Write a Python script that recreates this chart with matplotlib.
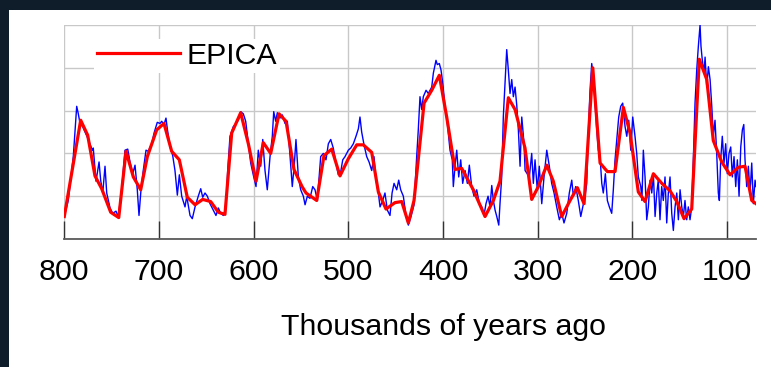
import matplotlib
matplotlib.use("Agg")
import matplotlib.pyplot as plt
from matplotlib.patches import Rectangle

# EPICA Dome C temperature anomaly (deg C) vs. age (thousands of years ago)
# smoothed curve
epica_age = [
    800.0, 782.7, 775.3, 767.6, 760.5, 751.0, 742.5, 734.8, 727.1, 719.3,
    712.3, 702.4, 694.7, 686.6, 678.5, 670.1, 661.9, 653.8, 645.4, 637.3,
    630.3, 623.2, 613.7, 605.6, 597.5, 589.8, 582.0, 573.2, 565.8, 557.4,
    548.9, 544.7, 533.4, 525.7, 517.5, 508.8, 500.0, 491.1, 484.2, 475.3,
    468.3, 460.2, 450.7, 443.6, 436.6, 430.6, 420.0, 411.9, 403.9, 396.1,
    387.3, 380.2, 368.0, 355.6, 346.8, 339.8, 331.0, 323.9, 313.4, 306.3,
    299.3, 290.4, 283.5, 274.6, 265.8, 258.1, 251.0, 241.8, 234.1, 226.4,
    218.3, 209.5, 202.4, 193.7, 186.6, 177.8, 168.9, 160.2, 153.1, 145.4,
    137.3, 129.3, 121.4, 114.5, 105.6, 96.8, 88.1, 81.0, 73.9, 69.4,
]
epica_temp = [
    -9.9, -0.9, -2.3, -6.1, -7.3, -9.5, -10.0, -3.8, -6.2, -7.4,
    -4.3, -1.8, -1.2, -3.8, -4.6, -8.1, -8.8, -8.3, -8.5, -9.5,
    -9.7, -2.1, -0.2, -3.1, -6.6, -3.0, -4.0, -0.3, -1.0, -5.5,
    -7.1, -7.7, -8.4, -4.2, -3.6, -6.1, -4.5, -3.2, -3.2, -3.9,
    -7.6, -9.2, -8.6, -8.5, -10.5, -8.4, 0.7, 1.9, 3.3, -0.6,
    -5.5, -5.4, -7.4, -9.9, -8.4, -6.6, 1.2, 0.1, -3.5, -8.3,
    -7.1, -5.1, -6.6, -9.9, -8.4, -7.2, -8.7, 4.0, -4.9, -5.7,
    -5.7, 0.3, -2.1, -7.6, -8.5, -5.9, -6.8, -7.5, -8.5, -10.1,
    -9.2, 4.8, 2.9, -2.8, -4.8, -6.0, -5.3, -5.2, -8.4, -8.7,
]

# high resolution record
hires_age = [
    800.0, 795.8, 790.5, 786.9, 785.2, 783.4, 780.6, 778.1, 774.6, 770.4,
    769.4, 766.5, 763.3, 761.6, 759.4, 757.0, 755.2, 751.7, 748.9, 745.4,
    743.0, 739.4, 735.9, 733.0, 730.6, 727.7, 725.3, 722.9, 721.1, 719.0,
    716.6, 713.7, 711.3, 707.7, 705.2, 701.8, 698.9, 697.1, 694.7, 692.6,
    691.2, 688.3, 685.5, 683.1, 680.6, 678.5, 676.0, 672.5, 670.7, 667.2,
    664.8, 661.9, 658.5, 655.9, 653.8, 651.4, 648.9, 646.1, 642.6, 639.8,
    637.3, 634.8, 632.0, 629.2, 627.4, 625.0, 621.5, 618.6, 616.2, 613.7,
    610.9, 608.4, 605.6, 603.1, 600.4, 597.5, 595.1, 592.5, 590.4, 588.0,
    585.6, 582.7, 580.3, 578.8, 576.7, 575.0, 572.2, 569.7, 566.9, 564.4,
    561.6, 559.2, 557.1, 555.3, 552.8, 550.3, 547.5, 545.7, 543.3, 540.5,
    537.6, 535.2, 532.7, 529.2, 526.4, 523.6, 521.1, 518.6, 515.9, 513.0,
    510.6, 508.0, 505.9, 503.5, 500.0, 497.5, 494.7, 491.9, 489.4, 487.7,
    485.9, 483.4, 480.6, 478.1, 475.3, 472.9, 470.7, 468.3, 466.5, 463.7,
    461.3, 458.8, 456.0, 453.8, 451.7, 448.9, 446.8, 444.7, 441.9, 439.1,
    436.6, 433.8, 430.6, 427.8, 426.1, 424.3, 422.5, 420.8, 417.9, 415.5,
    411.9, 410.2, 407.4, 406.0, 403.9, 402.1, 400.3, 397.9, 395.4, 392.6,
    390.2, 389.1, 387.3, 385.5, 383.4, 381.3, 379.2, 376.7, 374.3, 372.2,
    369.7, 367.2, 364.4, 361.6, 359.1, 356.7, 354.6, 352.4, 350.3, 348.5,
    346.8, 345.0, 343.2, 341.1, 339.8, 338.0, 336.3, 334.5, 332.7, 331.0,
    329.2, 327.4, 325.7, 323.9, 322.1, 320.4, 318.6, 316.8, 314.4, 313.3,
    308.8, 306.3, 304.6, 302.8, 300.4, 298.3, 295.7, 293.3, 290.4, 287.7,
    285.2, 282.7, 279.9, 277.1, 274.6, 272.2, 269.3, 266.6, 264.0, 262.3,
    259.8, 257.1, 254.5, 252.4, 250.0, 248.2, 246.5, 244.7, 242.9, 241.2,
    239.4, 237.6, 235.9, 234.1, 232.3, 230.7, 228.5, 226.4, 224.3, 221.8,
    220.1, 218.3, 216.5, 214.4, 212.3, 210.2, 207.7, 205.9, 203.8, 201.7,
    199.6, 197.2, 195.4, 193.7, 191.1, 189.9, 188.4, 186.6, 184.8, 183.1,
    181.3, 179.5, 177.8, 176.0, 174.2, 172.6, 170.8, 169.0, 167.3, 165.5,
    163.7, 162.0, 160.2, 158.4, 156.7, 154.9, 153.1, 151.4, 149.6, 147.8,
    146.1, 144.4, 142.6, 140.9, 139.1, 137.3, 135.6, 133.8, 132.0, 130.3,
    128.5, 127.5, 126.1, 124.3, 123.2, 121.4, 119.7, 117.9, 116.1, 114.5,
    112.7, 110.9, 109.2, 108.1, 106.7, 105.0, 103.2, 101.4, 99.7, 97.9,
    96.1, 94.4, 92.6, 90.8, 89.1, 87.3, 85.5, 83.8, 82.3, 81.0,
    79.2, 77.5, 75.7, 73.9, 72.2, 70.4, 69.4,
]
hires_temp = [
    -9.9, -8.4, -4.3, 0.4, -0.3, -1.2, -1.5, -2.0, -2.7, -3.7,
    -3.5, -6.6, -4.8, -6.5, -7.7, -5.2, -7.7, -9.1, -9.6, -9.4,
    -9.9, -7.4, -3.7, -3.6, -4.8, -5.9, -5.1, -7.4, -9.8, -7.4,
    -5.6, -3.7, -3.8, -3.1, -2.1, -1.1, -1.2, -1.0, -1.3, -0.7,
    -1.7, -3.4, -4.2, -5.6, -7.9, -6.0, -8.0, -9.0, -8.0, -9.8,
    -10.1, -9.0, -8.0, -7.3, -8.1, -7.7, -8.0, -8.7, -9.3, -9.8,
    -9.1, -9.6, -9.8, -9.1, -5.6, -2.4, -1.5, -1.2, -0.9, -0.1,
    -0.3, -1.0, -3.1, -4.9, -6.0, -7.1, -3.7, -5.2, -2.7, -5.6,
    -7.4, -4.3, -2.4, -0.1, -1.0, -0.2, -0.7, -0.4, -1.2, -1.0,
    -4.2, -7.1, -5.1, -2.7, -6.2, -7.4, -8.0, -8.8, -8.0, -8.2,
    -7.1, -7.4, -8.4, -4.3, -4.0, -4.6, -3.1, -2.7, -3.5, -4.9,
    -6.0, -5.7, -4.6, -4.3, -3.7, -3.5, -3.1, -2.4, -1.7, -0.6,
    -2.0, -3.2, -4.3, -4.8, -5.6, -4.3, -6.5, -7.7, -9.0, -8.4,
    -7.7, -9.3, -9.8, -7.7, -6.8, -7.4, -6.5, -7.4, -8.0, -9.8,
    -10.7, -9.9, -8.8, -4.3, -1.8, 1.3, 0.1, 1.3, 1.9, 1.6,
    2.2, 3.5, 4.7, 4.3, 4.4, 3.8, 2.6, 0.4, -1.2, -3.7,
    -4.6, -7.1, -5.2, -3.7, -6.2, -4.6, -6.8, -5.6, -6.8, -5.1,
    -7.1, -8.0, -7.4, -8.7, -9.0, -9.8, -8.7, -8.0, -9.0, -7.0,
    -8.4, -9.3, -9.9, -10.7, -8.7, -6.2, -0.6, 2.6, 5.7, 3.8,
    1.6, 2.9, 1.3, 2.2, 0.5, -1.8, -5.2, -0.6, -3.1, -5.6,
    -6.2, -4.0, -6.8, -4.6, -7.4, -5.2, -8.7, -6.2, -3.7, -5.2,
    -6.8, -7.7, -9.0, -10.2, -9.6, -10.5, -9.6, -7.7, -6.5, -8.0,
    -7.1, -8.4, -9.9, -9.0, -8.0, -6.8, -2.1, 1.9, 4.4, 3.2,
    0.7, -1.8, -3.7, -4.3, -6.8, -7.7, -5.9, -8.4, -9.0, -9.6,
    -7.4, -4.6, -2.7, -0.6, 0.4, 0.7, -1.5, -2.4, -0.9, -3.7,
    -0.6, -2.4, -4.0, -6.2, -7.1, -8.4, -3.7, -6.2, -10.2, -9.0,
    -6.5, -7.7, -5.9, -9.9, -7.7, -6.5, -10.2, -7.1, -8.4, -6.2,
    -10.5, -7.7, -6.2, -9.6, -11.2, -9.0, -7.7, -10.2, -7.4, -9.0,
    -9.9, -8.4, -10.2, -9.0, -10.2, -9.0, -4.6, 0.7, 3.8, 6.0,
    8.0, 6.0, 4.7, 3.5, 5.0, 2.2, 4.1, 2.9, 0.4, -2.4,
    -0.9, -4.0, -7.7, -8.4, -4.6, -2.4, -4.9, -3.1, -5.9, -4.0,
    -3.4, -6.2, -4.3, -7.1, -4.6, -8.0, -3.4, -1.8, -1.3, -4.6,
    -7.1, -5.2, -7.7, -4.9, -8.7, -6.5, -7.1,
]

tick_ages = [800, 700, 600, 500, 400, 300, 200, 100]
grid_temps = [-12, -8, -4, 0, 4, 8]

plt.rcParams['font.family'] = ['Liberation Sans', 'DejaVu Sans']

W, H = 771, 367
fig = plt.figure(figsize=(W / 100, H / 100), dpi=100)
fig.patch.set_facecolor('#0f1d2b')

# white slide panel behind the chart
fig.add_artist(Rectangle((9 / W, 0), 1, 1 - 10 / H, transform=fig.transFigure,
                         facecolor='white', edgecolor='none', zorder=0))

ax = fig.add_axes([64.3 / W, 1 - 239 / H, (756 - 64.3) / W, (239 - 25) / H])
ax.set_facecolor('white')

ax.plot(hires_age, hires_temp, color='#0000ff', linewidth=1.0)
ax.plot(epica_age, epica_temp, color='#ff0000', linewidth=2.3, label='EPICA')

ax.set_xlim(800, 69.4)
ax.set_ylim(-12, 8)
ax.set_xticks(tick_ages)
ax.set_xticklabels([str(a) for a in tick_ages])
ax.set_yticks(grid_temps)

ax.grid(True, color='#c8c8c8', linewidth=1.0)
ax.set_axisbelow(True)

for side in ['top', 'right', 'left']:
    ax.spines[side].set_visible(False)
ax.spines['bottom'].set_color('#5a5a5a')
ax.spines['bottom'].set_linewidth(1.3)

ax.tick_params(axis='y', left=False, labelleft=False)
ax.tick_params(axis='x', direction='in', length=13, width=1.0,
               color='#333333', labelsize=21.8, pad=14)

ax.legend(loc='upper left', bbox_to_anchor=(94 / W, 1 - 38.5 / H),
          bbox_transform=fig.transFigure, frameon=True, facecolor='white',
          edgecolor='none', framealpha=1, fancybox=False, borderpad=0.1,
          borderaxespad=0, handlelength=2.74, handletextpad=0.2,
          fontsize=21.8)

fig.text(443.5 / W, 1 - 335 / H, 'Thousands of years ago', ha='center',
         va='baseline', fontsize=21.8)

fig.savefig('out.png', dpi=100, facecolor=fig.get_facecolor())
